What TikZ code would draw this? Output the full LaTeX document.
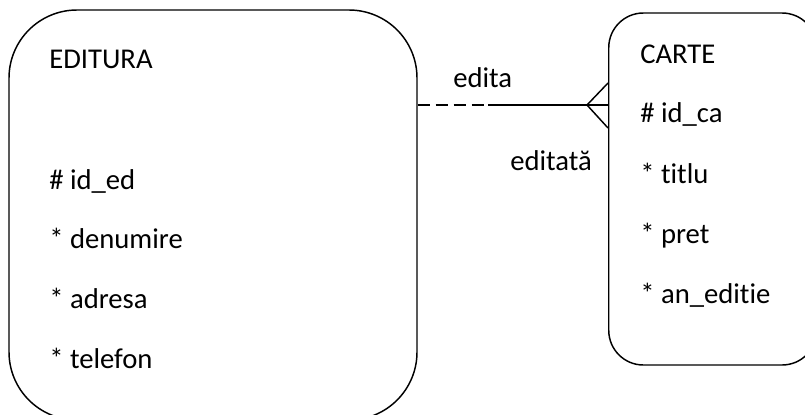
\documentclass[tikz,border=0pt]{standalone}
\usepackage{fontspec}
\setmainfont{Carlito}[Ligatures=CommonOff]
\begin{document}
\begin{tikzpicture}[x=0.75pt,y=-0.75pt,
    entity/.style={draw, line width=1.1pt, rounded corners=#1, inner sep=0pt},
    attr/.style={anchor=base west, inner sep=0pt, font=\fontsize{21.5}{25}\selectfont},
    rel/.style={line width=1.1pt}]
    \useasboundingbox (0,0) rectangle (805,414);
    \clip (0,0) rectangle (805,414);
    % Entities
    \node[entity=51pt, minimum width=306pt, minimum height=307.5pt] (editura) at (213,215) {};
    \node[entity=26pt, minimum width=156pt, minimum height=264pt, anchor=west] (carte) at (608,189) {};

    % EDITURA attributes
    \node[attr] (ename) at (49,68) {EDITURA};
    \node[attr] (eid) at (49,189) {\# id\_ed};
    \node[attr] (eden) at (49,248) {* denumire};
    \node[attr] (eadr) at (49,308) {* adresa};
    \node[attr] (etel) at (49,368) {* telefon};

    % CARTE attributes
    \node[attr] (cname) at (640,63) {CARTE};
    \node[attr] (cid) at (640,122) {\# id\_ca};
    \node[attr] (ctit) at (640,183) {* titlu};
    \node[attr] (cpret) at (640,243) {* pret};
    \node[attr] (cand) at (640,303) {* an\_editie};

    % Relationship edita / editata
    \coordinate (split) at (488,105);
    \coordinate (foot) at (587,105);
    \draw[rel, dash pattern=on 9pt off 4.5pt] (editura.east |- split) -- (split);
    \draw[rel] (split) -- (carte.west |- split);
    \draw[rel] (carte.west |- 0,83) -- (foot) -- (carte.west |- 0,128);
    \node[attr] (ledita) at (453,87) {edita};
    \node[attr] (leditata) at (510,170) {editată};
\end{tikzpicture}
\end{document}
